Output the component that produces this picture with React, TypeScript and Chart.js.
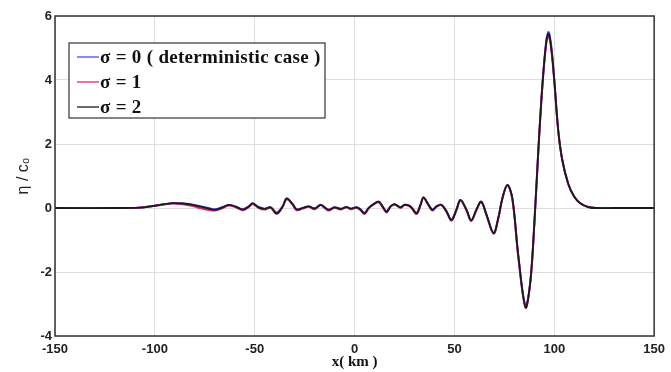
import React, { useEffect, useRef } from "react";
import { Chart, registerables } from "chart.js";

Chart.register(...registerables);

const xKm = [-150,-120,-108,-100,-95,-91,-86,-81,-77,-73,-70,-66,-63,-59,-56,-53,-51,-48,-45,-42,-39,-36,-34,-31,-29,-26,-23,-20,-17,-15,-13,-10,-7,-4,-2,1,3,5,7,9,12,14,16,18,20,23,25,28,31,33,34.5,37,39,41,43.5,46,48.5,51,53,56,58.4,61,63.4,66,69.6,72,74,76.5,79,82,85.6,88,90,92,94,96,97.2,98.5,100,102,104,107,110,113,117,121,130,150];

const sigma0 = [0,0,0.01,0.07,0.12,0.15,0.14,0.1,0.05,0,-0.04,0.03,0.09,0.03,-0.04,0.05,0.13,0.03,-0.02,0.02,-0.14,0.05,0.27,0.12,-0.04,0,0.05,-0.01,0.09,0.02,-0.05,0.02,-0.02,0.03,-0.02,0.02,-0.04,-0.15,0,0.1,0.18,0.05,-0.1,0.05,0.11,0.02,0.1,0.05,-0.15,0.1,0.31,0.1,-0.05,0.05,0.1,-0.1,-0.36,-0.05,0.24,-0.05,-0.38,-0.05,0.2,-0.2,-0.78,-0.3,0.3,0.7,0.3,-1.5,-3.05,-2.3,-0.5,1.8,3.8,5.25,5.5,5.05,4.0,2.4,1.5,0.75,0.35,0.15,0.03,0,0,0];

const sigma1 = [0,0,0.01,0.07,0.12,0.14,0.12,0.06,-0.01,-0.06,-0.08,0,0.08,0.01,-0.07,0.03,0.12,0.0,-0.05,0.01,-0.19,0.04,0.3,0.1,-0.07,-0.02,0.04,-0.04,0.1,0.0,-0.08,0.01,-0.05,0.02,-0.04,0.01,-0.07,-0.19,-0.02,0.09,0.2,0.03,-0.14,0.04,0.12,0.0,0.09,0.03,-0.19,0.08,0.33,0.09,-0.08,0.04,0.09,-0.12,-0.4,-0.07,0.24,-0.07,-0.41,-0.07,0.19,-0.22,-0.8,-0.32,0.3,0.72,0.28,-1.55,-3.12,-2.32,-0.5,1.78,3.78,5.15,5.38,4.95,3.95,2.4,1.5,0.75,0.35,0.15,0.03,0,0,0];

const sigma2 = [0,0,0.01,0.07,0.12,0.15,0.14,0.1,0.04,-0.02,-0.06,0.02,0.1,0.03,-0.05,0.05,0.15,0.02,-0.03,0.02,-0.17,0.05,0.3,0.12,-0.05,0,0.05,-0.02,0.1,0.02,-0.06,0.02,-0.03,0.03,-0.02,0.02,-0.05,-0.17,0,0.1,0.2,0.05,-0.12,0.05,0.12,0.02,0.1,0.05,-0.17,0.1,0.33,0.1,-0.06,0.05,0.1,-0.1,-0.38,-0.05,0.25,-0.05,-0.39,-0.05,0.2,-0.2,-0.79,-0.3,0.3,0.72,0.3,-1.5,-3.1,-2.3,-0.5,1.8,3.8,5.2,5.45,5.0,4.0,2.4,1.5,0.75,0.35,0.15,0.03,0,0,0];

const seriesLabels = ["\u03c3 = 0 ( deterministic case )", "\u03c3 = 1", "\u03c3 = 2"];
const seriesColors = ["#4a4aff", "#d0306a", "#1a1a1a"];
const xTicks = [-150, -100, -50, 0, 50, 100, 150];
const yTicks = [-4, -2, 0, 2, 4, 6];
const xTitle = "x( km )";
const yTitle = "\u03b7 / c\u2080";

const frameAndLegend = {
  id: "frameAndLegend",
  afterDatasetsDraw(chart: any) {
    const { ctx, chartArea } = chart;
    ctx.save();
    ctx.strokeStyle = "#333333";
    ctx.lineWidth = 1.5;
    ctx.strokeRect(chartArea.left, chartArea.top, chartArea.right - chartArea.left, chartArea.bottom - chartArea.top);
    // legend
    const bx = 69, by = 43, bw = 256, bh = 75;
    ctx.fillStyle = "#ffffff";
    ctx.fillRect(bx, by, bw, bh);
    ctx.lineWidth = 1.2;
    ctx.strokeStyle = "#333333";
    ctx.strokeRect(bx, by, bw, bh);
    ctx.font = "bold 19px 'Liberation Serif', serif";
    try { (ctx as any).letterSpacing = "0.3px"; } catch (e) {}
    ctx.textBaseline = "middle";
    ctx.textAlign = "left";
    chart.data.datasets.forEach((ds: any, i: number) => {
      const y = by + 14 + i * 25;
      ctx.strokeStyle = ds.borderColor;
      ctx.lineWidth = 1.3;
      ctx.beginPath();
      ctx.moveTo(bx + 8, y);
      ctx.lineTo(bx + 30, y);
      ctx.stroke();
      ctx.fillStyle = "#111111";
      ctx.fillText(ds.label, bx + 31, y + 1);
    });
    ctx.restore();
  },
};

export default function App() {
  const ref = useRef<HTMLCanvasElement>(null);
  useEffect(() => {
    if (!ref.current) return;
    const mk = (ys: number[]) => xKm.map((x, i) => ({ x, y: ys[i] }));
    const chart = new Chart(ref.current, {
      type: "line",
      data: {
        datasets: [sigma0, sigma1, sigma2].map((ys, i) => ({
          label: seriesLabels[i],
          data: mk(ys),
          borderColor: seriesColors[i],
          borderWidth: i === 2 ? 1.8 : 2,
          pointRadius: 0,
          tension: 0.35,
          fill: false,
          order: 2 - i,
        })),
      },
      options: {
        animation: false,
        responsive: false,
        layout: { padding: { top: 16, right: 9, left: 0, bottom: 0 } },
        plugins: { legend: { display: false }, tooltip: { enabled: false } },
        scales: {
          x: {
            type: "linear",
            min: -150,
            max: 150,
            afterBuildTicks: (s: any) => { s.ticks = xTicks.map((v) => ({ value: v })); },
            afterFit: (s: any) => { s.height = 36; },
            grid: { color: "#dedede", drawTicks: false, lineWidth: 1 },
            border: { display: false },
            ticks: { padding: 6, color: "#222", font: { family: "'Liberation Sans', Arial", size: 13, weight: "bold" }, maxRotation: 0 },
            title: { display: true, text: xTitle, color: "#111", font: { family: "'Liberation Serif', serif", size: 15, weight: "bold" }, padding: { top: 0, bottom: 1 } },
          },
          y: {
            min: -4,
            max: 6,
            afterBuildTicks: (s: any) => { s.ticks = yTicks.map((v) => ({ value: v })); },
            afterFit: (s: any) => { s.width = 55; },
            grid: { color: "#dedede", drawTicks: false, lineWidth: 1 },
            border: { display: false },
            ticks: { padding: 3, color: "#222", font: { family: "'Liberation Sans', Arial", size: 13, weight: "bold" } },
            title: { display: true, text: yTitle, color: "#222", font: { family: "'Liberation Sans', Arial", size: 16 }, padding: { top: 14, bottom: 0 } },
          },
        },
      },
      plugins: [frameAndLegend],
    });
    return () => chart.destroy();
  }, []);
  return (
    <div style={{ position: "absolute", left: 0, top: 0, width: 671, height: 372, background: "#fff" }}>
      <canvas ref={ref} width={671} height={372} />
    </div>
  );
}
